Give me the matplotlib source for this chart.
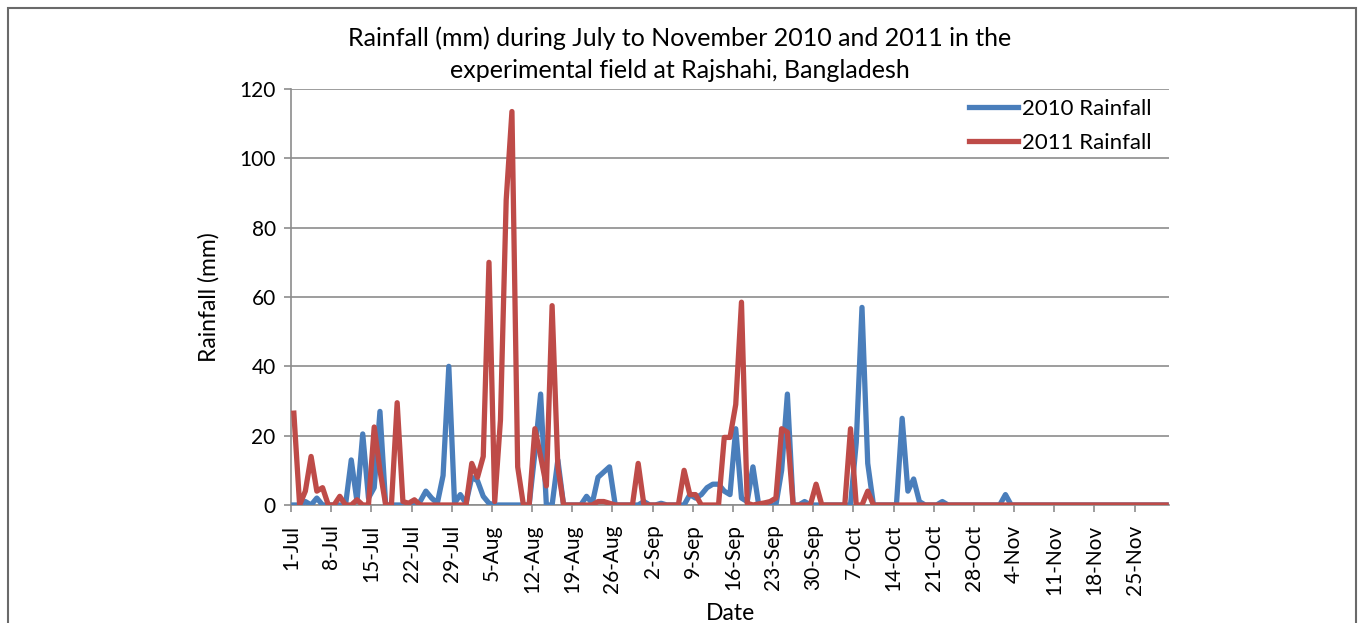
import matplotlib
matplotlib.use("Agg")
import matplotlib.pyplot as plt
from matplotlib.patches import Rectangle
import numpy as np

plt.rcParams['font.family'] = ['Lato', 'DejaVu Sans']

# Daily rainfall (mm), 1-Jul .. 30-Nov
rain2010_jul = [0, 0, 1, 0, 2, 0, 0, 0, 0, 0, 13, 1, 20.5, 2, 5, 27, 0, 0, 0, 0,
                0, 0, 1, 4, 2, 0.5, 8.5, 40, 0.5, 3, 0.5]
rain2010_aug = [8, 7, 2.5, 0.5, 0, 0, 0, 0, 0, 0, 0, 15, 32, 0, 0, 13, 0, 0, 0, 0,
                2.5, 0.5, 8, 9.5, 11, 0, 0, 0, 0, 0, 1]
rain2010_sep = [0, 0, 0.5, 0, 0, 0, 0, 3, 2, 3, 5, 6, 6, 4, 3, 22, 2, 1, 11, 0,
                0, 0, 0, 10, 32, 0, 0, 1, 0, 0]
rain2010_oct = [0, 0, 0, 0, 0, 0, 18, 57, 12, 0, 0, 0, 0, 0, 25, 4, 7.5, 1, 0, 0,
                0, 1, 0, 0, 0, 0, 0, 0, 0, 0, 0]
rain2010_nov = [0, 3, 0, 0, 0, 0, 0, 0, 0, 0, 0, 0, 0, 0, 0, 0, 0, 0, 0, 0,
                0, 0, 0, 0, 0, 0, 0, 0, 0, 0]

rain2011_jul = [26.5, 0, 4, 14, 4, 5, 0, 0, 2.5, 0, 0, 1.5, 0, 0, 22.5, 10, 0, 0, 29.5, 1,
                0.5, 1.5, 0, 0, 0, 0, 0, 0, 0, 0, 0]
rain2011_aug = [12, 8, 14, 70, 1, 24.5, 88, 113.5, 11, 0, 0, 22, 14, 5.5, 57.5, 11, 0, 0, 0, 0,
                0, 0, 1, 1, 0.5, 0, 0, 0, 0, 12, 0]
rain2011_sep = [0, 0, 0, 0, 0, 0, 10, 3, 3, 0, 0, 0, 0, 19.5, 19.5, 29, 58.5, 0.5, 0, 0.3,
                0.6, 1, 2, 22, 21, 0, 0, 0, 0, 6]
rain2011_oct = [0, 0, 0, 0, 0, 22, 0, 0, 4, 0, 0, 0, 0, 0, 0, 0, 0, 0, 0, 0,
                0, 0, 0, 0, 0, 0, 0, 0, 0, 0, 0]
rain2011_nov = [0] * 30

tick_labels = ["1-Jul", "8-Jul", "15-Jul", "22-Jul", "29-Jul", "5-Aug", "12-Aug",
               "19-Aug", "26-Aug", "2-Sep", "9-Sep", "16-Sep", "23-Sep", "30-Sep",
               "7-Oct", "14-Oct", "21-Oct", "28-Oct", "4-Nov", "11-Nov", "18-Nov", "25-Nov"]
yticks = [0, 20, 40, 60, 80, 100, 120]

r2010 = np.array(rain2010_jul + rain2010_aug + rain2010_sep + rain2010_oct + rain2010_nov)
r2011 = np.array(rain2011_jul + rain2011_aug + rain2011_sep + rain2011_oct + rain2011_nov)
n = len(r2010)
x = np.arange(n) + 0.5

W, H = 1358, 623
fig = plt.figure(figsize=(W / 100, H / 100), dpi=100)
ax = fig.add_axes([291 / W, 1 - 505 / H, (1169 - 291) / W, (505 - 89) / H])

blue = '#4A7EBB'
red = '#BE4B48'
grid = '#8C8C8C'

ax.plot(x, r2010, color=blue, lw=3.8, solid_joinstyle='round', label='2010 Rainfall', zorder=3)
ax.plot(x, r2011, color=red, lw=3.8, solid_joinstyle='round', label='2011 Rainfall', zorder=4)

ax.set_xlim(0, n)
ax.set_ylim(0, 120)
ax.set_yticks(yticks)
ax.set_xticks(np.arange(0, len(tick_labels) * 7, 7))
ax.set_xticklabels(tick_labels, rotation=90)
ax.tick_params(axis='both', colors=grid, labelcolor='black', labelsize=15,
               length=5, width=1.2, direction='out')
ax.tick_params(axis='y', pad=6)
ax.tick_params(axis='x', pad=9)

ax.yaxis.grid(True, color=grid, lw=1.2)
ax.set_axisbelow(True)
for s in ['top', 'right']:
    ax.spines[s].set_visible(False)
for s in ['left', 'bottom']:
    ax.spines[s].set_color(grid)
    ax.spines[s].set_linewidth(1.2)
ax.spines['bottom'].set_zorder(2)

ax.set_ylabel('Rainfall (mm)', fontsize=16.5, labelpad=14)
ax.set_xlabel('Date', fontsize=16.5, labelpad=6)
fig.text(680 / W, 1 - 54 / H,
         'Rainfall (mm) during July to November 2010 and 2011 in the\nexperimental field at Rajshahi, Bangladesh',
         ha='center', va='center', fontsize=18, linespacing=1.48)

leg = ax.legend(loc='upper left', bbox_to_anchor=(949 / W, 1 - 79 / H),
                bbox_transform=fig.transFigure, frameon=False, fontsize=16,
                handlelength=2.2, handletextpad=0.2, labelspacing=0.62)

fig.patches.append(Rectangle((8 / W, -0.1), (1356 - 8) / W, 1.1 - 8 / H,
                             transform=fig.transFigure, fill=False,
                             edgecolor='#6a6a6a', lw=1.5))

fig.savefig('out.png', dpi=100)
